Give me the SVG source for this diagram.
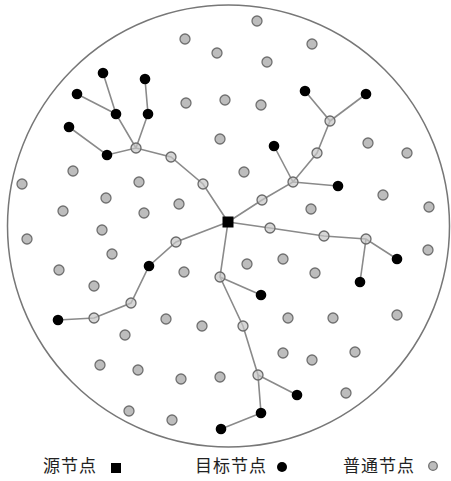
<svg xmlns="http://www.w3.org/2000/svg" width="451" height="481" viewBox="0 0 451 481">
<style>
.bd{fill:none;stroke:#777;stroke-width:1.5}
.e{stroke:#8a8a8a;stroke-width:1.6;fill:none}
.g{fill:#bdbdbd;stroke:#707070;stroke-width:1.3}
.r{fill:#c4c4c4;fill-opacity:0.7;stroke:#6a6a6a;stroke-width:1.3}
.t{fill:#000}
.lb{font-family:"Noto Sans CJK SC","Noto Sans CJK JP",sans-serif;font-size:17px;fill:#222;letter-spacing:1px}
</style>
<defs>
<circle id="gn" r="5" class="g"/>
<circle id="tn" r="5.3" class="t"/>
<circle id="rn" r="5" class="r"/>
</defs>
<rect width="451" height="481" fill="#fff"/>
<circle class="bd" cx="228.5" cy="226" r="221"/>
<g id="ordinary">
<g id="o1"><use href="#gn" x="185" y="39"/></g>
<g id="o2"><use href="#gn" x="217" y="53"/></g>
<g id="o3"><use href="#gn" x="257" y="21"/></g>
<g id="o4"><use href="#gn" x="312" y="44"/></g>
<g id="o5"><use href="#gn" x="267" y="62"/></g>
<g id="o6"><use href="#gn" x="186" y="103"/></g>
<g id="o7"><use href="#gn" x="225" y="100"/></g>
<g id="o8"><use href="#gn" x="261" y="105"/></g>
<g id="o9"><use href="#gn" x="220" y="139"/></g>
<g id="o10"><use href="#gn" x="73" y="171"/></g>
<g id="o11"><use href="#gn" x="22" y="184"/></g>
<g id="o12"><use href="#gn" x="139" y="182"/></g>
<g id="o13"><use href="#gn" x="106" y="198"/></g>
<g id="o14"><use href="#gn" x="179" y="204"/></g>
<g id="o15"><use href="#gn" x="63" y="211"/></g>
<g id="o16"><use href="#gn" x="144" y="213"/></g>
<g id="o17"><use href="#gn" x="368" y="143"/></g>
<g id="o18"><use href="#gn" x="407" y="153"/></g>
<g id="o19"><use href="#gn" x="244" y="172"/></g>
<g id="o20"><use href="#gn" x="383" y="195"/></g>
<g id="o21"><use href="#gn" x="429" y="207"/></g>
<g id="o22"><use href="#gn" x="311" y="209"/></g>
<g id="o23"><use href="#gn" x="27" y="239"/></g>
<g id="o24"><use href="#gn" x="102" y="230"/></g>
<g id="o25"><use href="#gn" x="112" y="254"/></g>
<g id="o26"><use href="#gn" x="59" y="270"/></g>
<g id="o27"><use href="#gn" x="94" y="286"/></g>
<g id="o28"><use href="#gn" x="184" y="272"/></g>
<g id="o29"><use href="#gn" x="166" y="319"/></g>
<g id="o30"><use href="#gn" x="202" y="326"/></g>
<g id="o31"><use href="#gn" x="125" y="335"/></g>
<g id="o32"><use href="#gn" x="100" y="365"/></g>
<g id="o33"><use href="#gn" x="138" y="370"/></g>
<g id="o34"><use href="#gn" x="181" y="379"/></g>
<g id="o35"><use href="#gn" x="220" y="377"/></g>
<g id="o36"><use href="#gn" x="129" y="411"/></g>
<g id="o37"><use href="#gn" x="172" y="420"/></g>
<g id="o38"><use href="#gn" x="428" y="250"/></g>
<g id="o39"><use href="#gn" x="247" y="264"/></g>
<g id="o40"><use href="#gn" x="283" y="259"/></g>
<g id="o41"><use href="#gn" x="315" y="273"/></g>
<g id="o42"><use href="#gn" x="288" y="318"/></g>
<g id="o43"><use href="#gn" x="333" y="318"/></g>
<g id="o44"><use href="#gn" x="397" y="315"/></g>
<g id="o45"><use href="#gn" x="283" y="353"/></g>
<g id="o46"><use href="#gn" x="312" y="360"/></g>
<g id="o47"><use href="#gn" x="355" y="352"/></g>
<g id="o48"><use href="#gn" x="346" y="393"/></g>
</g>
<g id="connectors">
<polyline class="e" points="103,73 116,114 136,148"/>
<line class="e" x1="77" y1="94" x2="116" y2="114"/>
<polyline class="e" points="145,79 148,114 136,148"/>
<polyline class="e" points="69,127 107,155 136,148 171,157 203,184 228,222"/>
<polyline class="e" points="305,91 330,121 317,153 293,182 262,200 228,222"/>
<line class="e" x1="366" y1="94" x2="330" y2="121"/>
<line class="e" x1="274" y1="146" x2="293" y2="182"/>
<line class="e" x1="293" y1="182" x2="338" y2="186"/>
<polyline class="e" points="228,222 176,242 149,266 131,303 94,318 58,320"/>
<polyline class="e" points="228,222 220,277 243,326 258,375 261,413 221,429"/>
<line class="e" x1="220" y1="277" x2="261" y2="295"/>
<line class="e" x1="258" y1="375" x2="297" y2="395"/>
<polyline class="e" points="228,222 270,228 324,236 366,239 397,259"/>
<line class="e" x1="366" y1="239" x2="360" y2="282"/>
</g>
<g id="relays">
<g id="r1"><use href="#rn" x="136" y="148"/></g>
<g id="r2"><use href="#rn" x="171" y="157"/></g>
<g id="r3"><use href="#rn" x="203" y="184"/></g>
<g id="r4"><use href="#rn" x="330" y="121"/></g>
<g id="r5"><use href="#rn" x="317" y="153"/></g>
<g id="r6"><use href="#rn" x="293" y="182"/></g>
<g id="r7"><use href="#rn" x="262" y="200"/></g>
<g id="r8"><use href="#rn" x="176" y="242"/></g>
<g id="r9"><use href="#rn" x="131" y="303"/></g>
<g id="r10"><use href="#rn" x="94" y="318"/></g>
<g id="r11"><use href="#rn" x="220" y="277"/></g>
<g id="r12"><use href="#rn" x="270" y="228"/></g>
<g id="r13"><use href="#rn" x="324" y="236"/></g>
<g id="r14"><use href="#rn" x="366" y="239"/></g>
<g id="r15"><use href="#rn" x="243" y="326"/></g>
<g id="r16"><use href="#rn" x="258" y="375"/></g>
</g>
<g id="targets">
<g id="t1"><use href="#tn" x="103" y="73"/></g>
<g id="t2"><use href="#tn" x="145" y="79"/></g>
<g id="t3"><use href="#tn" x="77" y="94"/></g>
<g id="t4"><use href="#tn" x="116" y="114"/></g>
<g id="t5"><use href="#tn" x="148" y="114"/></g>
<g id="t6"><use href="#tn" x="69" y="127"/></g>
<g id="t7"><use href="#tn" x="107" y="155"/></g>
<g id="t8"><use href="#tn" x="305" y="91"/></g>
<g id="t9"><use href="#tn" x="366" y="94"/></g>
<g id="t10"><use href="#tn" x="274" y="146"/></g>
<g id="t11"><use href="#tn" x="338" y="186"/></g>
<g id="t12"><use href="#tn" x="149" y="266"/></g>
<g id="t13"><use href="#tn" x="58" y="320"/></g>
<g id="t14"><use href="#tn" x="397" y="259"/></g>
<g id="t15"><use href="#tn" x="360" y="282"/></g>
<g id="t16"><use href="#tn" x="261" y="295"/></g>
<g id="t17"><use href="#tn" x="297" y="395"/></g>
<g id="t18"><use href="#tn" x="261" y="413"/></g>
<g id="t19"><use href="#tn" x="221" y="429"/></g>
</g>
<g id="source"><rect x="222.5" y="216.5" width="11" height="11" fill="#000"/></g>
<g id="legend">
<text class="lb" x="43" y="472">源节点</text>
<rect x="111" y="463" width="10" height="10" fill="#000"/>
<text class="lb" x="195" y="472">目标节点</text>
<circle cx="282" cy="467" r="5" fill="#000"/>
<text class="lb" x="343" y="472">普通节点</text>
<circle cx="433" cy="466" r="4.3" class="g"/>
</g>
</svg>
